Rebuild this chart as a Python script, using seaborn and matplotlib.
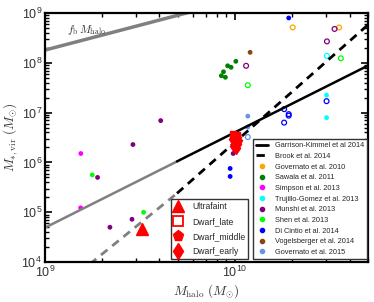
import numpy as np
import pandas as pd
import matplotlib
matplotlib.use("Agg")
import matplotlib.pyplot as plt
import seaborn as sns
from matplotlib.lines import Line2D

# ---- data (log10 values) ----
studies = ['Governato et al. 2010', 'Sawala et al. 2011', 'Simpson et al. 2013',
           'Trujillo-Gomez et al. 2013', 'Munshi et al. 2013', 'Shen et al. 2013',
           'Di Cintio et al. 2014', 'Vogelsberger et al. 2014', 'Governato et al. 2015']
colors = ['orange', 'green', 'magenta', 'cyan', 'purple', 'lime',
          'blue', 'saddlebrown', 'cornflowerblue']

gov10_x = [10.303, 10.547]
gov10_y = [8.71, 8.71]
gov10_open = [1, 1]
sawala_x = [10.004, 9.961, 9.979, 9.939, 9.928, 9.949]
sawala_y = [8.03, 7.94, 7.91, 7.82, 7.74, 7.71]
sawala_open = [0, 0, 0, 0, 0, 0]
simpson_x = [9.189, 9.188]
simpson_y = [6.18, 5.09]
simpson_open = [0, 0]
trujillo_x = [10.483, 10.481, 10.481]
trujillo_y = [8.14, 7.35, 6.90]
trujillo_open = [1, 0, 0]
munshi_x = [9.609, 9.463, 9.277, 9.458, 9.342, 9.99, 10.058, 10.523, 10.483]
munshi_y = [6.84, 6.36, 5.70, 4.86, 4.70, 6.18, 7.94, 8.68, 8.43]
munshi_open = [0, 0, 0, 0, 0, 0, 1, 1, 1]
shen_x = [9.249, 9.519, 10.067, 10.556]
shen_y = [5.75, 5.00, 7.55, 8.09]
shen_open = [0, 0, 1, 1]
dicintio_x = [10.282, 9.974, 9.974, 10.258, 10.282, 10.282, 10.258, 10.481]
dicintio_y = [8.90, 5.88, 5.72, 7.07, 6.97, 6.94, 6.80, 7.23]
dicintio_open = [0, 0, 0, 1, 1, 1, 1, 1]
vogel_x = [10.079]
vogel_y = [8.21]
vogel_open = [0]
gov15_x = [10.067, 10.067, 10.067]
gov15_y = [6.93, 6.71, 6.51]
gov15_open = [0, 0, 1]

# red dwarf points
ultrafaint_x = [9.509]
ultrafaint_y = [4.67]
dwarf_late_x = [9.99, 10.012]
dwarf_late_y = [6.57, 6.55]
dwarf_middle_x = [9.992, 10.008, 10.015]
dwarf_middle_y = [6.53, 6.49, 6.44]
dwarf_early_x = [9.992, 10.0, 10.01, 9.99, 10.004]
dwarf_early_y = [6.34, 6.42, 6.38, 6.48, 6.30]

# relation lines (end points)
fb_halo = [1e9, 5e10]
fb_star = [1.8e8, 9.0e9]
gk_halo_extrap = [1e9, 4.95e9]
gk_star_extrap = [4.9e4, 1.05e6]
gk_halo = [4.95e9, 5e10]
gk_star = [1.05e6, 8.8e7]
brook_halo_extrap = [1e9, 4.95e9]
brook_star_extrap = [1.7e3, 2.4e5]
brook_halo = [4.95e9, 5e10]
brook_star = [2.4e5, 5.8e8]

rows = []
for name, xs, ys, op in [
        (studies[0], gov10_x, gov10_y, gov10_open),
        (studies[1], sawala_x, sawala_y, sawala_open),
        (studies[2], simpson_x, simpson_y, simpson_open),
        (studies[3], trujillo_x, trujillo_y, trujillo_open),
        (studies[4], munshi_x, munshi_y, munshi_open),
        (studies[5], shen_x, shen_y, shen_open),
        (studies[6], dicintio_x, dicintio_y, dicintio_open),
        (studies[7], vogel_x, vogel_y, vogel_open),
        (studies[8], gov15_x, gov15_y, gov15_open)]:
    for x, y, o in zip(xs, ys, op):
        rows.append({'halo': 10**x, 'star': 10**y, 'study': name, 'open': o})
df = pd.DataFrame(rows)
palette = dict(zip(studies, colors))

sns.set_theme(style='ticks')
plt.rcParams['mathtext.fontset'] = 'cm'
plt.rcParams['font.family'] = ['Liberation Sans', 'DejaVu Sans']

fig = plt.figure(figsize=(3.74, 3.02), dpi=100)
ax = fig.add_axes([0.120, 0.132, 0.864, 0.825])

# lines
ax.plot(fb_halo, fb_star, color='gray', lw=2.5, solid_capstyle='butt')
ax.plot(gk_halo_extrap, gk_star_extrap, color='gray', lw=1.8)
ax.plot(gk_halo, gk_star, color='black', lw=1.8)
ax.plot(brook_halo_extrap, brook_star_extrap, color='gray', lw=2, ls=(0, (3, 2.2)))
ax.plot(brook_halo, brook_star, color='black', lw=2, ls=(0, (3, 2.2)))

# filled points
sns.scatterplot(data=df[df['open'] == 0], x='halo', y='star', hue='study',
                palette=palette, s=12, linewidth=0, legend=False, ax=ax)
# open points
n_before = len(ax.collections)
sns.scatterplot(data=df[df['open'] == 1], x='halo', y='star', hue='study',
                palette=palette, s=12, linewidth=0.9, legend=False, ax=ax)
for coll in ax.collections[n_before:]:
    coll.set_edgecolor(coll.get_facecolor())
    coll.set_facecolor('none')

# red dwarfs
ax.plot(10**np.array(ultrafaint_x), 10**np.array(ultrafaint_y), '^', color='red', ms=8, mec='red')
ax.plot(10**np.array(dwarf_early_x), 10**np.array(dwarf_early_y), 'd', color='red', ms=6, mec='red')
ax.plot(10**np.array(dwarf_middle_x), 10**np.array(dwarf_middle_y), 'p', color='red', ms=6, mec='red')
ax.plot(10**np.array(dwarf_late_x), 10**np.array(dwarf_late_y), 's', color='red', ms=5, mec='red')

ax.set_xscale('log')
ax.set_yscale('log')
ax.set_xlim(1e9, 5e10)
ax.set_ylim(1e4, 1e9)

ax.text(1.3e9, 4.6e8, r'$f_{\rm b}\,M_{\rm halo}$', fontsize=8, color='#333333',
        va='center', ha='left')

ax.set_xlabel(r'$M_{\rm halo}\ (M_{\odot})$', fontsize=9.5, color='#333333', labelpad=1.5)
ax.set_ylabel(r'$M_{*,{\rm vir}}\ (M_{\odot})$', fontsize=9.5, color='#333333', labelpad=1)

for sp in ax.spines.values():
    sp.set_linewidth(1.6)
    sp.set_color('black')
ax.tick_params(which='both', direction='in', top=True, right=True, colors='black',
               labelcolor='#333333', labelsize=9, pad=2)
ax.tick_params(which='major', length=5, width=1.2)
ax.tick_params(which='minor', length=3, width=1.0)

# legends
h1 = [Line2D([], [], ls='none', marker='^', color='red', ms=8),
      Line2D([], [], ls='none', marker='s', mfc='none', mec='red', mew=1.3, ms=7),
      Line2D([], [], ls='none', marker='p', color='red', ms=8),
      Line2D([], [], ls='none', marker='d', color='red', ms=8)]
leg1 = ax.legend(h1, ['Ultrafaint', 'Dwarf_late', 'Dwarf_middle', 'Dwarf_early'],
                 loc='lower right', bbox_to_anchor=(0.628, 0.014), fontsize=6.2,
                 frameon=True, fancybox=False, edgecolor='#333333', framealpha=1,
                 handlelength=1.0, handletextpad=1.1, labelspacing=0.7,
                 borderpad=0.3, borderaxespad=0)
leg1.get_frame().set_linewidth(1.0)
ax.add_artist(leg1)

h2 = [Line2D([], [], color='black', lw=2),
      Line2D([], [], color='black', lw=2, ls=(0, (3, 2.2)))]
h2 += [Line2D([], [], ls='none', marker='o', color=c, ms=3) for c in colors]
leg2 = ax.legend(h2, ['Garrison-Kimmel et al 2014', 'Brook et al. 2014'] + studies,
                 loc='lower right', bbox_to_anchor=(0.996, 0.014), fontsize=5.3,
                 frameon=True, fancybox=False, edgecolor='#333333', framealpha=1,
                 handlelength=1.6, handletextpad=1.0, labelspacing=0.48,
                 borderpad=0.35, borderaxespad=0)
leg2.get_frame().set_linewidth(1.0)

fig.savefig('out.png', dpi=100)
